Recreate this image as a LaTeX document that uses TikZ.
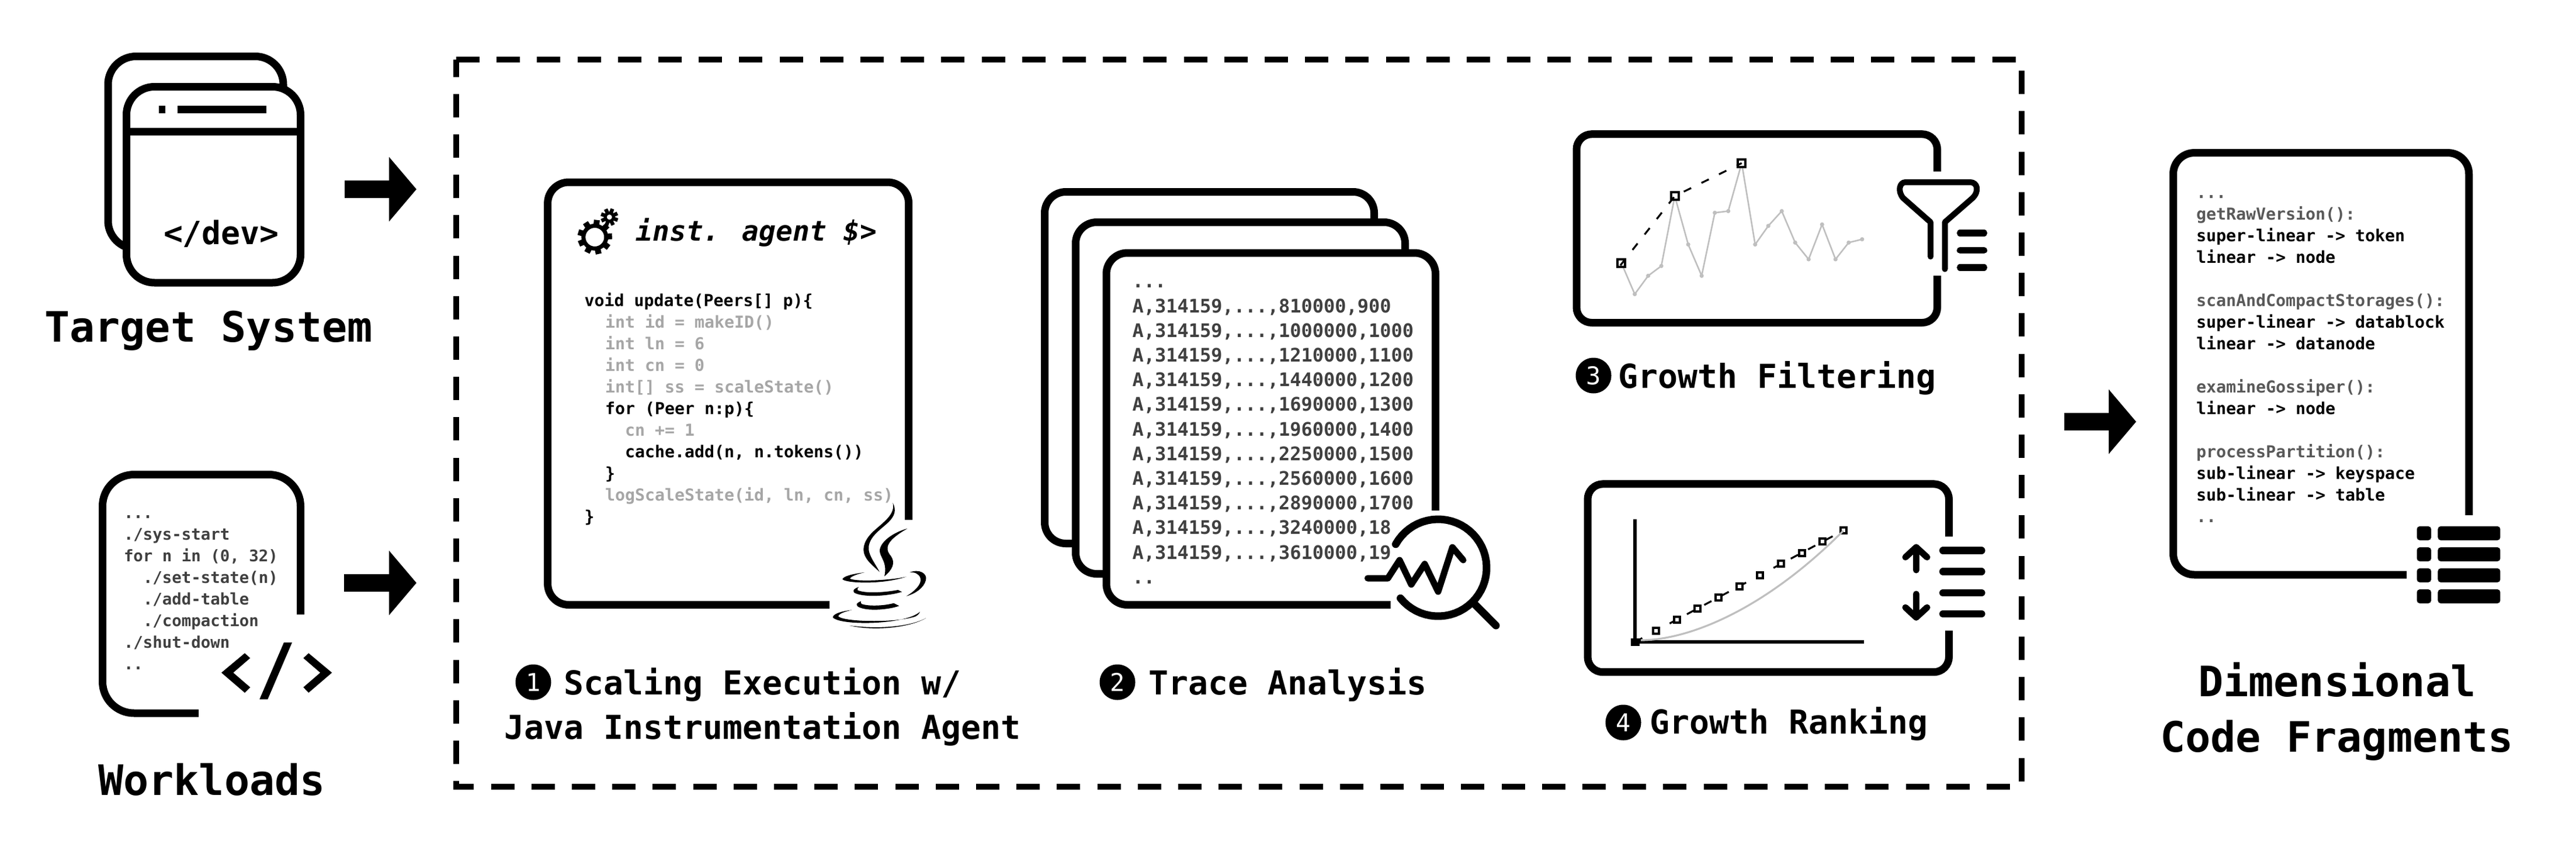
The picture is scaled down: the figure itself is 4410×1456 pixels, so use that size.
\documentclass[tikz,border=0pt]{standalone}
\usepackage{fontspec}
\usetikzlibrary{arrows.meta}
\newfontfamily\codefont{DejaVu Sans Mono}
\definecolor{darkcode}{HTML}{404040}
\definecolor{midcode}{HTML}{595959}
\definecolor{lightcode}{HTML}{A6A6A6}
\definecolor{plotgrey}{HTML}{BFBFBF}
\newcommand{\fsz}[1]{\fontsize{#1pt}{#1pt}\selectfont}
\tikzset{
  txt/.style={inner sep=0pt,outer sep=0pt,anchor=base west,text=black},
  code17/.style={txt,font=\codefont\bfseries\fsz{14.12}},
  code165/.style={txt,text=darkcode,font=\codefont\bfseries\fsz{13.7}},
  code19/.style={txt,text=darkcode,font=\codefont\bfseries\fsz{16.0}},
  cap34/.style={txt,font=\codefont\bfseries\fsz{28.24}},
  cap43/.style={txt,font=\codefont\bfseries\fsz{35.9}},
  badge/.style={circle,fill=black,text=white,inner sep=0pt,outer sep=0pt,minimum size=30.5pt,font=\codefont\fsz{21}},
  frame/.style={draw=black,line width=6.5pt,line join=round},
  bigarrow/.style={line width=15pt,-{Triangle[length=23.5pt,width=54pt]}},
  dashbox/.style={line width=5pt,dash pattern=on 20pt off 14.6pt},
  rbar/.style={line width=5.6pt,line cap=round},
  plotline/.style={draw=plotgrey,line width=1.3pt},
  plotdot/.style={fill=plotgrey},
  peak/.style={draw=black,fill=white,line width=2pt},
  trend/.style={draw=black,line width=1.6pt,dash pattern=on 7pt off 9.8pt},
  listcell/.style={fill=black,rounded corners=2.5pt}
}
\begin{document}
\begin{tikzpicture}[x=0.5pt,y=-0.5pt]
\useasboundingbox (0,0) rectangle (4410,1456);
\fill[white] (0,0) rectangle (4410,1456);

% ---------- Target system icon
\draw[frame,fill=white,rounded corners=24pt] (185,96.5) rectangle (485,426);
\draw[frame,fill=white,rounded corners=24pt] (216.5,148.5) rectangle (514.5,484);
\draw[black,line width=6.5pt] (216.5,225.6) -- (514.5,225.6);
\fill (272,181) rectangle (283,194);
\fill (304,181) rectangle (456,194);
\node[txt,font=\codefont\bfseries\fsz{27.4}] (devlabel) at (280,418) {</dev>};
\node[cap43] (target) at (76,585) {Target System};

% ---------- Workloads
\draw[frame,rounded corners=27pt] (514.5,1052) -- (514.5,812.5) -- (175.5,812.5) -- (175.5,1221) -- (340,1221);
\node[code165] (w0) at (212,887) {...};
\node[code165] (w1) at (212,924) {./sys-start};
\node[code165] (w2) at (212,961) {for n in (0, 32)};
\node[code165] (w3) at (245,998) {./set-state(n)};
\node[code165] (w4) at (245,1035) {./add-table};
\node[code165] (w5) at (245,1072) {./compaction};
\node[code165] (w6) at (212,1109) {./shut-down};
\node[code165] (w7) at (212,1146) {..};
\fill (379,1151.7) -- (419,1118.3) -- (428.3,1126.7) -- (399.3,1151.7) -- (428.3,1176.7) -- (419,1186) -- cycle;
\fill (486,1100) -- (500,1100) -- (458.3,1197.3) -- (444.3,1197.3) -- cycle;
\fill (568.3,1151.7) -- (528.3,1118.3) -- (519.3,1126.7) -- (548.3,1151.7) -- (519.3,1176.7) -- (528.3,1186) -- cycle;
\node[cap43] (workloads) at (168,1361) {Workloads};

% ---------- Big arrows
\coordinate (a1s) at (590,324);
\coordinate (a1e) at (713,324);
\coordinate (a2s) at (589,998);
\coordinate (a2e) at (713,998);
\coordinate (a3s) at (3534,722);
\coordinate (a3e) at (3657,722);
\draw[bigarrow] (a1s) -- (a1e);
\draw[bigarrow] (a2s) -- (a2e);
\draw[bigarrow] (a3s) -- (a3e);

% ---------- Dashed box
\draw[dashbox] (781,102.3) -- (3461,102.3) -- (3461,1346.7) -- (781,1346.7) -- cycle;

% ---------- Step 1
\draw[frame,rounded corners=18pt] (1555.6,890) -- (1555.6,312) -- (937.6,312) -- (937.6,1035.5) -- (1420,1035.5);
% gears
\draw[line width=3.5pt] (1018.3,406) circle (19.5);
\foreach \a in {0,40,...,320}
  \draw[line width=5pt] ({1018.3+21*cos(\a-83)},{406+21*sin(\a-83)}) -- ({1018.3+29.5*cos(\a-83)},{406+29.5*sin(\a-83)});
\draw[line width=2.6pt] (1043.3,371.7) circle (7);
\foreach \a in {0,45,...,315}
  \draw[line width=3.2pt] ({1043.3+9*cos(\a-70)},{371.7+9*sin(\a-70)}) -- ({1043.3+15*cos(\a-70)},{371.7+15*sin(\a-70)});
\node[txt,font=\codefont\bfseries\itshape\fsz{23.9}] (agent) at (1088.7,412.6) {inst. agent \$>};
\node[code17] (c0) at (1000.7,524) {void update(Peers[] p)\{};
\node[code17,text=lightcode] (c1) at (1036,561) {int id = makeID()};
\node[code17,text=lightcode] (c2) at (1036,598) {int ln = 6};
\node[code17,text=lightcode] (c3) at (1036,635) {int cn = 0};
\node[code17,text=lightcode] (c4) at (1036,672) {int[] ss = scaleState()};
\node[code17] (c5) at (1036,709) {for (Peer n:p)\{};
\node[code17,text=lightcode] (c6) at (1070,746) {cn += 1};
\node[code17] (c7) at (1070,783) {cache.add(n, n.tokens())};
\node[code17] (c8) at (1036,820) {\}};
\node[code17,text=lightcode] (c9) at (1036,857) {logScaleState(id, ln, cn, ss)};
\node[code17] (c10) at (1000.7,894) {\}};
% java logo
\begin{scope}[shift={(1410,850)},x=0.16667pt,y=-0.16667pt]
\fill (355,32) .. controls (370,90) and (310,130) .. (260,175) .. controls (215,215) and (190,265) .. (215,310) .. controls (230,340) and (265,365) .. (287,388) .. controls (270,350) and (225,300) .. (232,255) .. controls (240,200) and (300,165) .. (335,130) .. controls (365,100) and (375,70) .. (355,32) -- cycle;
\fill (430,165) .. controls (370,180) and (295,225) .. (288,275) .. controls (285,310) and (330,335) .. (312,410) .. controls (355,375) and (370,340) .. (345,305) .. controls (310,265) and (325,225) .. (430,165) -- cycle;
\fill (210,390) .. controls (150,397) and (100,410) .. (97,425) .. controls (110,445) and (300,455) .. (425,412) .. controls (350,430) and (170,440) .. (135,422) .. controls (140,410) and (175,398) .. (210,390) -- cycle;
\fill (442,390) .. controls (490,370) and (535,395) .. (525,430) .. controls (515,470) and (470,500) .. (425,512) .. controls (470,485) and (505,450) .. (497,420) .. controls (490,395) and (465,388) .. (442,390) -- cycle;
\fill (180,465) .. controls (150,475) and (145,490) .. (165,498) .. controls (220,520) and (340,510) .. (402,490) -- (382,480) .. controls (320,492) and (220,500) .. (175,482) .. controls (172,475) and (175,470) .. (180,465) -- cycle;
\fill (192,538) .. controls (165,548) and (160,562) .. (190,572) .. controls (240,590) and (340,580) .. (388,562) -- (360,548) .. controls (310,562) and (230,565) .. (195,552) .. controls (190,548) and (190,542) .. (192,538) -- cycle;
\fill (145,583) .. controls (85,590) and (45,605) .. (48,622) .. controls (90,665) and (420,660) .. (495,592) .. controls (490,605) and (480,612) .. (470,617) .. controls (370,650) and (100,645) .. (75,615) .. controls (80,600) and (115,590) .. (145,583) -- cycle;
\fill (525,625) .. controls (450,670) and (270,695) .. (133,663) .. controls (280,682) and (440,670) .. (525,625) -- cycle;
\end{scope}
\node[badge] (b1) at (913,1168) {1};
\node[cap34] (s1a) at (965,1189) {Scaling Execution w/};
\node[cap34] (s1b) at (863,1265) {Java Instrumentation Agent};

% ---------- Step 2
\draw[frame,fill=white,rounded corners=18pt] (1788.5,328.5) rectangle (2352.5,930.5);
\draw[frame,fill=white,rounded corners=18pt] (1841.5,380.5) rectangle (2405.5,982.5);
\fill[white] (1894,433) rectangle (2457.5,1035.5);
\draw[frame,rounded corners=18pt] (2457.5,874) -- (2457.5,433) -- (1894,433) -- (1894,1035.5) -- (2380.5,1035.5);
\node[code19] (t0) at (1938.6,492) {...};
\node[code19] (t1) at (1938.6,535) {A,314159,...,810000,900};
\node[code19] (t2) at (1938.6,577.2) {A,314159,...,1000000,1000};
\node[code19] (t3) at (1938.6,619.4) {A,314159,...,1210000,1100};
\node[code19] (t4) at (1938.6,661.6) {A,314159,...,1440000,1200};
\node[code19] (t5) at (1938.6,703.8) {A,314159,...,1690000,1300};
\node[code19] (t6) at (1938.6,746) {A,314159,...,1960000,1400};
\node[code19] (t7) at (1938.6,788.2) {A,314159,...,2250000,1500};
\node[code19] (t8) at (1938.6,830.4) {A,314159,...,2560000,1600};
\node[code19] (t9) at (1938.6,872.6) {A,314159,...,2890000,1700};
\node[code19] (t10) at (1938.6,914.8) {A,314159,...,3240000,18};
\node[code19] (t11) at (1938.6,957) {A,314159,...,3610000,19};
\node[code19] (t12) at (1938.6,999) {..};
% magnifier
\draw[line width=6.5pt,line cap=round] plot[domain=-151:141,samples=50] ({2462+83*cos(\x)},{972+83*sin(\x)});
\draw[line width=6.5pt,line cap=round] (2522.6,1032.5) -- (2561,1071);
\draw[line width=5.5pt,line cap=round,line join=round] (2341.4,990) -- (2376,990) -- (2396,959) -- (2416,1000.7) -- (2439,965.6) -- (2462,1013) -- (2486.4,937) -- (2505,959);
\node[badge] (b2) at (1913,1168) {2};
\node[cap34] (s2) at (1966,1189) {Trace Analysis};

% ---------- Step 3
\draw[frame,rounded corners=13pt] (3316.5,293.6) -- (3316.5,229.7) -- (2699,229.7) -- (2699,552.5) -- (3316.5,552.5) -- (3316.5,472);
\begin{scope}[shift={(2640,200)},x=0.25575pt,y=-0.17857pt]
\draw[plotline] (265,700) -- (310,850) -- (355,762) -- (399,715) -- (444,380) -- (489,612) -- (534,762) -- (578,460) -- (623,452) -- (668,222) -- (713,612) -- (757,523) -- (802,452) -- (847,603) -- (892,683) -- (937,516) -- (982,683) -- (1026,603) -- (1071,587);
\foreach \p in {(310,850),(355,762),(399,715),(489,612),(534,762),(578,460),(623,452),(713,612),(757,523),(802,452),(847,603),(892,683),(937,516),(982,683),(1026,603),(1071,587)}
  \fill[plotdot] \p circle [radius=1.8pt];
\foreach \p in {(265,700),(444,380),(668,222)}
  \node[peak,rectangle,inner sep=0pt,minimum size=6.5pt] at \p {};
\draw[trend] (262,712) -- (444,380) -- (668,222);
\end{scope}
% funnel
\draw[line width=5pt,line cap=round,line join=round] (3305,439.3) -- (3305,380.4) -- (3258,339) .. controls (3248,327) and (3252,312) .. (3262,312) -- (3373,312) .. controls (3385,312) and (3389,327) .. (3377,339) -- (3329.5,380.4) -- (3329.5,460.7);
\draw[rbar] (3355.5,399) -- (3396.5,399);
\draw[rbar] (3355.5,428.6) -- (3396.5,428.6);
\draw[rbar] (3355.5,458) -- (3396.5,458);
\node[badge] (b3) at (2728,643) {3};
\node[cap34] (s3) at (2770,664) {Growth Filtering};

% ---------- Step 4
\draw[frame,rounded corners=13pt] (3336.5,918.7) -- (3336.5,828.7) -- (2718,828.7) -- (2718,1150.7) -- (3336.5,1150.7) -- (3336.5,1079.5);
\draw[line width=3.2pt] (2799,889) -- (2799,1099) -- (3191.4,1099);
\fill (2792.4,1092.5) rectangle (2806.7,1106);
\begin{scope}[shift={(2640,790)},x=0.25575pt,y=-0.16584pt]
\draw[trend] (311,932) -- (1008,357);
\foreach \p in {(381,875),(451,817),(520,760),(590,702),(660,645),(730,587),(799,529),(869,472),(938,414),(1008,357)}
  \node[peak,rectangle,inner sep=0pt,minimum size=5pt] at \p {};
\end{scope}
\draw[plotline,line width=1.6pt] (2809,1096) .. controls (2890,1096) and (3020,1045) .. (3155.6,908.7);
% up / down arrows
\draw[line width=5.5pt,line cap=round,line join=round] (3280.4,976) -- (3280.4,937);
\draw[line width=5.5pt,line cap=round,line join=round] (3262,954) -- (3280.4,937) -- (3299,954);
\draw[line width=5.5pt,line cap=round,line join=round] (3280.4,1017) -- (3280.4,1057);
\draw[line width=5.5pt,line cap=round,line join=round] (3262,1040) -- (3280.4,1057) -- (3299,1040);
\draw[rbar,line width=6.3pt] (3326.3,942.6) -- (3392.3,942.6);
\draw[rbar,line width=6.3pt] (3326.3,978.7) -- (3392.3,978.7);
\draw[rbar,line width=6.3pt] (3326.3,1015) -- (3392.3,1015);
\draw[rbar,line width=6.3pt] (3326.3,1051) -- (3392.3,1051);
\node[badge] (b4) at (2779,1237) {4};
\node[cap34] (s4) at (2824,1256) {Growth Ranking};

% ---------- Output
\draw[frame,rounded corners=18pt] (4226.7,882) -- (4226.7,261.6) -- (3720.5,261.6) -- (3720.5,984) -- (4120,984);
\node[code17,text=midcode] (f0) at (3760,339) {...};
\node[code17,text=midcode] (f1) at (3760,376) {getRawVersion():};
\node[code17] (f2) at (3760,413) {super-linear -> token};
\node[code17] (f3) at (3760,450) {linear -> node};
\node[code17,text=midcode] (f4) at (3760,524) {scanAndCompactStorages():};
\node[code17] (f5) at (3760,561) {super-linear -> datablock};
\node[code17] (f6) at (3760,598) {linear -> datanode};
\node[code17,text=midcode] (f7) at (3760,672) {examineGossiper():};
\node[code17] (f8) at (3760,709) {linear -> node};
\node[code17,text=midcode] (f9) at (3760,783) {processPartition():};
\node[code17] (f10) at (3760,820) {sub-linear -> keyspace};
\node[code17] (f11) at (3760,857) {sub-linear -> table};
\node[code17,text=midcode] (f12) at (3760,894) {..};
\foreach \yy in {913,949,985,1021}{
  \fill[listcell] (4137.5,\yy-12) rectangle (4162,\yy+12);
  \fill[listcell] (4173.4,\yy-12) rectangle (4280.4,\yy+12);
}
\node[cap43] (d1) at (3763,1192) {Dimensional};
\node[cap43] (d2) at (3698,1287) {Code Fragments};
\end{tikzpicture}
\end{document}
